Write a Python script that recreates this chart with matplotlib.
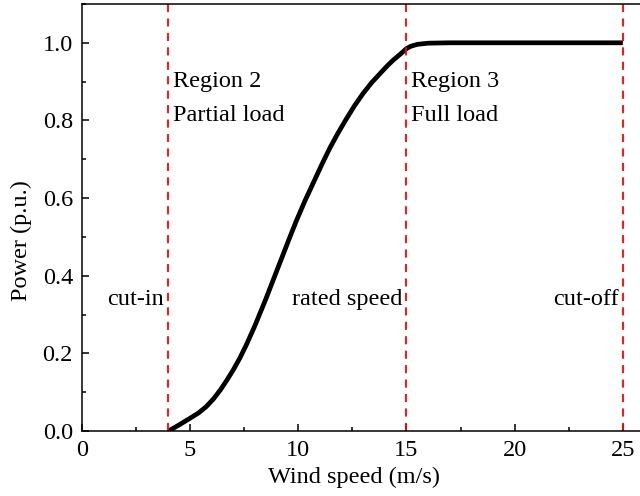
import matplotlib
matplotlib.use("Agg")
import matplotlib.pyplot as plt
from matplotlib.ticker import MultipleLocator

# power curve
wind_speed = [4.0, 4.5, 5.0, 5.4, 5.75, 6.1, 6.4, 6.7, 7.0, 7.3, 7.6, 8.0, 8.5, 9.0, 9.3,
              9.6, 9.9, 10.3, 10.7, 11.1, 11.45, 11.8, 12.2, 12.6, 13.0, 13.4, 13.8,
              14.1, 14.4, 14.7, 15.0, 15.2, 15.5, 16.0, 17.0, 20.0, 25.0]
power = [0.0, 0.016, 0.033, 0.047, 0.063, 0.084, 0.106, 0.131, 0.158, 0.188, 0.222, 0.272,
         0.340, 0.412, 0.455, 0.498, 0.540, 0.592, 0.640, 0.688, 0.728, 0.764, 0.802,
         0.838, 0.870, 0.898, 0.922, 0.940, 0.956, 0.970, 0.985, 0.991, 0.996, 0.999,
         1.0, 1.0, 1.0]

boundaries = [4, 15, 25]
region_labels = ["Region 2\nPartial load", "Region 3\nFull load"]
marker_labels = ["cut-in", "rated speed", "cut-off"]

plt.rcParams['font.family'] = ['Liberation Serif', 'DejaVu Serif']
plt.rcParams['font.size'] = 17.5

fig = plt.figure(figsize=(6.4, 4.96), dpi=100)
ax = fig.add_axes([0.128, 0.131, 0.879, 0.861])

ax.plot(wind_speed, power, color='black', lw=3.4, solid_capstyle='butt', solid_joinstyle='round')
for b in boundaries:
    ax.axvline(b, color='red', ls=(0, (4.5, 3.5)), lw=1.3)

ax.text(boundaries[0] + 0.2, 0.857, region_labels[0], va='center', ha='left', linespacing=1.85)
ax.text(boundaries[1] + 0.2, 0.857, region_labels[1], va='center', ha='left', linespacing=1.85)
for b, lab in zip(boundaries, marker_labels):
    ax.text(b - 0.2, 0.34, lab, va='center', ha='right')

ax.set_xlim(0, 26)
ax.set_ylim(0, 1.1)
ax.xaxis.set_major_locator(MultipleLocator(5))
ax.xaxis.set_minor_locator(MultipleLocator(2.5))
ax.yaxis.set_major_locator(MultipleLocator(0.2))
ax.yaxis.set_minor_locator(MultipleLocator(0.1))
ax.yaxis.set_major_formatter(plt.FuncFormatter(lambda v, p: f"{v:.1f}"))
ax.tick_params(which='both', direction='in', width=1.1, pad=6.5)
ax.tick_params(which='major', length=5)
ax.tick_params(which='minor', length=3)
for s in ax.spines.values():
    s.set_linewidth(1.1)

ax.set_xlabel("Wind speed (m/s)")
ax.set_ylabel("Power (p.u.)")
ax.xaxis.set_label_coords(0.483, -0.084)
ax.yaxis.set_label_coords(-0.089, 0.447)

fig.savefig("out.png", dpi=100)
